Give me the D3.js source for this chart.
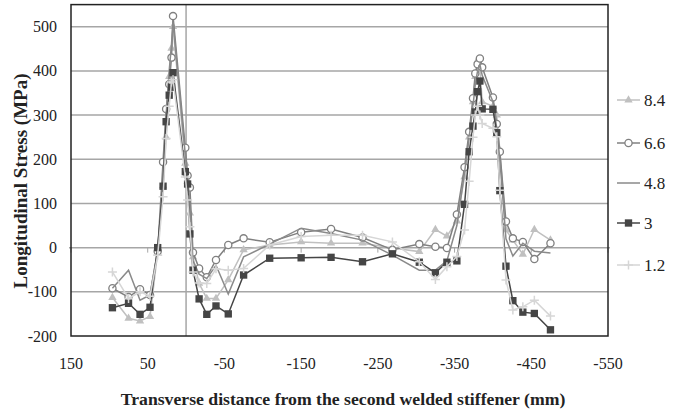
<!DOCTYPE html>
<html>
<head>
<meta charset="utf-8">
<script src="https://cdn.jsdelivr.net/npm/d3@7/dist/d3.min.js"></script>
<style>
  body { margin: 0; background: #fff; }
</style>
</head>
<body>
<svg id="chart" width="682" height="411" font-family="'Liberation Serif', 'Times New Roman', serif"></svg>
<script>
// transverse positions (mm), shared by all series
var distance = [96, 75, 60, 47, 37, 30, 26, 22, 19, 17, 1, -2, -5, -9, -17, -27, -39, -55, -75, -109,
  -150, -189, -230, -269, -304, -325, -340, -353, -363, -369, -374, -377, -380, -383, -386, -400,
  -405, -409, -417, -426, -439, -454, -475];

var s84 = [-113, -160, -166, -156, -10, 140, 250, 387, 451, 500, 191, 150, 78, -21, -81, -115, -115, -73, -5, 6,
  13, 10, 10, -1, -9, 41, 26, 60, 160, 250, 330, 387, 424, 410, 330, 320,
  300, 220, 40, 17, -15, 41, 17];
var s66 = [-92, -112, -94, -107, -8, 194, 314, 370, 430, 524, 226, 163, 136, -11, -47, -67, -28, 6, 21, 12,
  35, 42, 23, -5, 8, 2, -1, 75, 182, 262, 338, 394, 415, 428, 408, 340,
  280, 217, 59, 21, 13, -26, 10];
var s48 = [-92, -51, -119, -107, -5, 150, 300, 400, 460, 510, 210, 160, 100, -30, -60, -70, -40, -105, -21, 8,
  44, 32, 17, -17, -51, -51, -30, 50, 170, 250, 320, 370, 400, 415, 390, 330,
  270, 200, 20, -19, 10, -8, -12];
var s3 = [-136, -126, -151, -135, 0, 139, 285, 345, 363, 396, 172, 144, 31, -51, -116, -151, -132, -150, -62, -24,
  -23, -22, -32, -14, -33, -57, -33, -30, 98, 217, 275, 307, 353, 377, 314, 313,
  260, 129, -42, -120, -146, -149, -186];
var s12 = [-55, -115, -100, -110, -17, 115, 247, 320, 375, 380, 160, 108, 47, -55, -80, -81, -48, -51, -47, 6,
  25, 28, 28, 13, -32, -72, -43, -20, 40, 150, 250, 300, 320, 300, 281, 270,
  251, 130, -73, -141, -134, -119, -155];

var seriesNames = ["8.4", "6.6", "4.8", "3", "1.2"];
var xTicks = [150, 50, -50, -150, -250, -350, -450, -550];
var yTicks = [-200, -100, 0, 100, 200, 300, 400, 500];

var series = [
  {name: seriesNames[0], values: s84, color: "#c0c0c0", marker: "triangle"},
  {name: seriesNames[1], values: s66, color: "#808080", marker: "circle"},
  {name: seriesNames[2], values: s48, color: "#8a8a8a", marker: "none"},
  {name: seriesNames[3], values: s3, color: "#454545", marker: "square"},
  {name: seriesNames[4], values: s12, color: "#d6d6d6", marker: "plus"}
];

var plotLeft = 71, plotRight = 608, plotTop = 4.6, plotBottom = 336;

var svg = d3.select("#chart");

var x = d3.scaleLinear().domain([150, -550]).range([plotLeft, plotRight]);
var y = d3.scaleLinear().domain([-200, 550]).range([plotBottom, plotTop]);

// gridlines
svg.append("g")
  .selectAll("line")
  .data(yTicks.filter(function(d) { return d > -200 && d !== 0; }))
  .enter().append("line")
    .attr("x1", plotLeft).attr("x2", plotRight)
    .attr("y1", function(d) { return y(d); })
    .attr("y2", function(d) { return y(d); })
    .style("stroke", "#a6a6a6")
    .style("stroke-width", 1.5);

// zero crossing axis line slightly past the frame
svg.append("line")
  .attr("x1", plotLeft - 2).attr("x2", plotRight + 2)
  .attr("y1", y(0)).attr("y2", y(0))
  .style("stroke", "#a6a6a6")
  .style("stroke-width", 1.5);

// ticks on the zero line
svg.append("g")
  .selectAll("line")
  .data(xTicks)
  .enter().append("line")
    .attr("x1", function(d) { return x(d); })
    .attr("x2", function(d) { return x(d); })
    .attr("y1", y(0)).attr("y2", y(0) + 5)
    .style("stroke", "#a6a6a6")
    .style("stroke-width", 1);

// vertical axis at x = 0
svg.append("line")
  .attr("x1", x(0)).attr("x2", x(0))
  .attr("y1", plotTop).attr("y2", plotBottom)
  .style("stroke", "#a6a6a6")
  .style("stroke-width", 1.5);

// frame
svg.append("rect")
  .attr("x", plotLeft).attr("y", plotTop)
  .attr("width", plotRight - plotLeft).attr("height", plotBottom - plotTop)
  .style("fill", "none")
  .style("stroke", "#222")
  .style("stroke-width", 1.5);

// tick labels
svg.append("g")
  .selectAll("text")
  .data(yTicks)
  .enter().append("text")
    .attr("x", 57)
    .attr("y", function(d) { return y(d); })
    .attr("dy", "0.35em")
    .attr("text-anchor", "end")
    .style("font-size", "16px")
    .style("fill", "#222")
    .text(function(d) { return d; });

svg.append("g")
  .selectAll("text")
  .data(xTicks)
  .enter().append("text")
    .attr("x", function(d) { return x(d); })
    .attr("y", 369)
    .attr("text-anchor", "middle")
    .style("font-size", "16px")
    .style("fill", "#222")
    .text(function(d) { return d; });

// axis titles
svg.append("text")
  .attr("x", 343)
  .attr("y", 405)
  .attr("text-anchor", "middle")
  .style("font-size", "17.7px")
  .style("font-weight", "bold")
  .style("fill", "#222")
  .text("Transverse distance from the second welded stiffener (mm)");

svg.append("text")
  .attr("transform", "translate(27,181) rotate(-90)")
  .attr("text-anchor", "middle")
  .style("font-size", "19px")
  .style("font-weight", "bold")
  .style("fill", "#222")
  .text("Longitudinal Stress (MPa)");

var line = d3.line()
  .x(function(d) { return x(d[0]); })
  .y(function(d) { return y(d[1]); });

var tri = d3.symbol().type(d3.symbolTriangle).size(30);
var sq = d3.symbol().type(d3.symbolSquare).size(54);

function drawMarker(g, s, px, py) {
  if (s.marker === "triangle") {
    g.append("path").attr("d", tri).attr("transform", "translate(" + px + "," + py + ")")
      .style("fill", s.color);
  } else if (s.marker === "circle") {
    g.append("circle").attr("cx", px).attr("cy", py).attr("r", 3.6)
      .style("fill", "#fff").style("stroke", s.color).style("stroke-width", 1.3);
  } else if (s.marker === "square") {
    g.append("path").attr("d", sq).attr("transform", "translate(" + px + "," + py + ")")
      .style("fill", s.color);
  } else if (s.marker === "plus") {
    g.append("path").attr("d", "M" + (px - 4.5) + "," + py + "h9M" + px + "," + (py - 4.5) + "v9")
      .style("stroke", s.color).style("stroke-width", 1.5).style("fill", "none");
  }
}

series.forEach(function(s) {
  var pts = distance.map(function(d, i) { return [d, s.values[i]]; });
  var g = svg.append("g");
  g.append("path")
    .datum(pts)
    .attr("d", line)
    .style("fill", "none")
    .style("stroke", s.color)
    .style("stroke-width", 1.5);
  if (s.marker !== "none") {
    pts.forEach(function(p) { drawMarker(g, s, x(p[0]), y(p[1])); });
  }
});

// legend
var legendY = [100, 143, 183, 223, 265];
series.forEach(function(s, i) {
  var g = svg.append("g");
  var ly = legendY[i];
  g.append("line")
    .attr("x1", 617).attr("x2", 640)
    .attr("y1", ly).attr("y2", ly)
    .style("stroke", s.color)
    .style("stroke-width", 1.5);
  drawMarker(g, s, 628.5, ly);
  g.append("text")
    .attr("x", 644).attr("y", ly).attr("dy", "0.35em")
    .style("font-size", "17px")
    .style("fill", "#222")
    .text(s.name);
});
</script>
</body>
</html>
